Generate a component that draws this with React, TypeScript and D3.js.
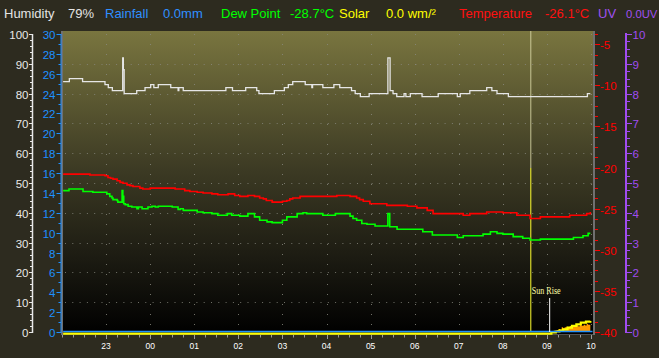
import React from "react";
import * as d3 from "d3";

const W = 659;
const H = 358;

// hour labels, placed every 60 minutes starting at 23:00 (60 minutes after 22:00)
const hourLabels = ["23", "00", "01", "02", "03", "04", "05", "06", "07", "08", "09", "10"];

// [minutes since 22:00, %]
const humidity: [number, number][] = [
  [1.5, 84], [10, 85], [28, 84], [58.5, 83], [63, 82], [68.5, 81], [82.6, 92], [83.5, 88], [84.6, 80],
  [101.7, 81], [113, 82], [120.7, 83], [125, 82], [131, 83], [148, 82], [158, 81], [159, 82], [165, 81],
  [223, 82], [232, 81], [250, 82], [265, 81], [268, 80], [289, 81], [302.6, 82], [308, 83], [314, 84],
  [331, 83], [340, 82], [341, 83], [355, 82], [370, 83], [378, 82], [394, 81], [399, 80], [406, 79],
  [418, 80], [443.5, 92], [446.5, 81], [450.5, 80], [455.6, 79], [465.5, 80], [468, 79], [474, 80],
  [490, 79], [512, 80], [538, 79], [542, 80], [555, 81], [578, 82], [585, 81], [592, 80], [607.5, 79],
  [715, 80], [719, 80],
];

// [minutes, °C]
const temperature: [number, number][] = [
  [1.5, -20.8], [38, -20.9], [58.5, -21.0], [62.6, -21.2], [66, -21.3], [69.4, -21.4], [75, -21.6],
  [79, -21.8], [83, -21.9], [88.5, -22.1], [92.5, -22.2], [96.6, -22.3], [106, -22.5], [110, -22.6],
  [120, -22.5], [154, -22.6], [167, -22.8], [174, -22.9], [184, -23.0], [192, -23.1], [204, -23.2],
  [212, -23.3], [226, -23.2], [235, -23.4], [242, -23.5], [253, -23.4], [262, -23.5], [269, -23.7],
  [274, -23.8], [278, -24.0], [286, -24.2], [300, -24.1], [306, -24.0], [310, -23.8], [314, -23.7],
  [324, -23.5], [374, -23.4], [392, -23.5], [401, -23.7], [405, -23.9], [410, -24.1], [419, -24.4],
  [442, -24.6], [470, -24.7], [483, -24.9], [497, -25.2], [505, -25.6], [546, -25.8], [555, -25.6],
  [578, -25.4], [600, -25.5], [619, -25.8], [637, -26.2], [651, -26.0], [691, -25.8], [714, -25.6],
  [719, -25.4],
];

// [minutes, °C]
const dewPoint: [number, number][] = [
  [1.5, -22.8], [9.5, -22.6], [28.6, -22.9], [42, -23.0], [61, -23.2], [65, -23.5], [68, -23.7],
  [69.4, -23.9], [75, -24.0], [76, -24.2], [81.8, -22.8], [82.8, -23.5], [84, -24.4], [86, -24.5],
  [90, -24.7], [95, -24.8], [102, -25.0], [104, -24.8], [109, -25.0], [117, -24.8], [122.5, -24.7],
  [127, -24.8], [131, -24.7], [150, -24.8], [158, -25.1], [161, -25.0], [165, -25.2], [184, -25.4],
  [192, -25.5], [204, -25.6], [212, -25.8], [225, -25.6], [231, -25.8], [242, -25.9], [253, -25.6],
  [262, -26.0], [269, -26.4], [279, -26.6], [286, -26.7], [300, -26.4], [306, -26.0], [320, -25.6],
  [328, -25.5], [333, -25.6], [355, -25.8], [372, -25.6], [392, -25.9], [396, -26.2], [401, -26.4],
  [408, -26.8], [415, -26.9], [426, -27.1], [443.5, -25.6], [446, -27.2], [456, -27.5], [491, -27.8],
  [504, -28.2], [538, -28.5], [546, -28.3], [573, -28.1], [583, -27.8], [592, -28.0], [600, -28.1],
  [614, -28.4], [627, -28.6], [637, -28.8], [651, -28.7], [696, -28.5], [709, -28.3], [716, -28.0],
  [719, -28.0],
];

// [minutes, W/m²]
const solar: [number, number][] = [
  [663, 0], [666, 2], [669, 4], [671, 3], [673, 7], [676, 10], [678, 8], [680, 16], [682, 12], [684, 16],
  [687, 18], [689, 15], [691, 20], [694, 17], [696, 20], [698, 22], [700, 23], [702, 19], [705, 27],
  [707, 21], [710, 24], [712, 22], [714, 28], [716, 24], [719, 27],
];

// [minutes, W/m²] theoretical maximum
const solarMax: [number, number][] = [
  [1.5, 0], [663, 0], [666, 4], [672, 7], [677, 10], [682, 14], [688, 20], [694, 26], [700, 31],
  [706, 37], [713, 40], [719, 42],
];

const rainfall: [number, number][] = [[1.5, 0], [722, 0]];

const sunRiseTime = 663;
const markerTime = 638;

const legendItems = [
  { label: "Humidity", value: "79%", color: "#e4e4e4", lx: 4, vx: 68 },
  { label: "Rainfall", value: "0.0mm", color: "#2f8fff", lx: 105, vx: 163 },
  { label: "Dew Point", value: "-28.7°C", color: "#00ff00", lx: 221, vx: 290 },
  { label: "Solar", value: "0.0 wm/²", color: "#ffff00", lx: 339, vx: 386 },
  { label: "Temperature", value: "-26.1°C", color: "#ff1010", lx: 459, vx: 545 },
  { label: "UV", value: "0.0UV", color: "#a050f0", lx: 598, vx: 626 },
];

const PL = 62, PR = 594, PT = 31, PB = 334;
const Y0 = 332, Y1 = 34;

export default function App() {
  const x = d3.scaleLinear().domain([0, 724]).range([PL, PR]);
  const yHum = d3.scaleLinear().domain([0, 100]).range([Y0, Y1]);
  const yRain = d3.scaleLinear().domain([0, 30]).range([Y0, Y1]);
  const yTemp = d3.scaleLinear().domain([-40, -3.75]).range([Y0, Y1]);
  const yUV = d3.scaleLinear().domain([0, 10]).range([Y0, Y1]);
  const ySolar = d3.scaleLinear().domain([0, 1000]).range([Y0, Y1]);

  const stepLine = (ys: d3.ScaleLinear<number, number>, dy = 0) =>
    d3.line<[number, number]>().x((d) => x(d[0])).y((d) => ys(d[1]) + dy).curve(d3.curveStepAfter);

  const solarArea = d3
    .area<[number, number]>()
    .x((d) => x(d[0]))
    .y0(ySolar(0))
    .y1((d) => ySolar(d[1]))
    .curve(d3.curveStepAfter);

  const humTicks = d3.range(0, 100.01, 2);
  const rainTicks = d3.range(0, 30.01, 1);
  const tempTicks = d3.range(-40, -3.7, 1.25);
  const uvTicks = d3.range(0, 10.01, 0.25);
  const xMinor = d3.range(0, 724, 15);
  const gridH = d3.range(10, 100, 10);
  const gridV = hourLabels.map((_, i) => 60 * (i + 1));

  const axisFont = "'Liberation Sans', Arial, sans-serif";

  return (
    <svg width={W} height={H} style={{ position: "absolute", left: 0, top: 0, display: "block" }}>
      <defs>
        <linearGradient id="plotBg" x1="0" y1="0" x2="0" y2="1">
          <stop offset="0" stopColor="#79753f" />
          <stop offset="0.45" stopColor="#3d3b24" />
          <stop offset="0.75" stopColor="#1c1b12" />
          <stop offset="1" stopColor="#000000" />
        </linearGradient>
      </defs>
      <rect x={0} y={0} width={W} height={H} fill="#2d2b1f" />

      {/* legend */}
      {legendItems.map((d) => (
        <g key={d.label} fontFamily={axisFont} fontSize={13} fill={d.color}>
          <text x={d.lx} y={17.5}>{d.label}</text>
          <text x={d.vx} y={17.5} fontSize={d.label === "UV" ? 11.3 : 13}>{d.value}</text>
        </g>
      ))}

      {/* plot background */}
      <rect x={PL} y={PT} width={PR - PL} height={PB - PT} fill="url(#plotBg)" />

      {/* grid */}
      {gridH.map((v) => (
        <line key={"gh" + v} x1={PL + 3} x2={PR} y1={Math.round(yHum(v)) + 0.5} y2={Math.round(yHum(v)) + 0.5}
          stroke="#8a8a80" strokeWidth={1} strokeDasharray="1 6.3" opacity={0.8} />
      ))}
      {gridV.map((v) => (
        <line key={"gv" + v} x1={Math.round(x(v)) + 0.5} x2={Math.round(x(v)) + 0.5} y1={PT + 3} y2={PB - 2}
          stroke="#8a8a80" strokeWidth={1} strokeDasharray="1 9" opacity={0.8} />
      ))}

      {/* plot border */}
      <line x1={PL} x2={PR} y1={PB + 0.5} y2={PB + 0.5} stroke="#505050" strokeWidth={1} />
      <line x1={PL} x2={PL} y1={PT} y2={PB + 1} stroke="#707070" strokeWidth={2} />
      <line x1={PR} x2={PR} y1={PT} y2={PB + 1} stroke="#707070" strokeWidth={2} />

      {/* marker line */}
      <line x1={x(markerTime)} x2={x(markerTime)} y1={PT} y2={168} stroke="#dcdaa8" strokeWidth={1} opacity={0.85} />
      <line x1={x(markerTime)} x2={x(markerTime)} y1={168} y2={Y0} stroke="#ffff30" strokeWidth={1} />

      {/* solar */}
      <path d={solarArea(solar) || ""} fill="#ff9a00" />
      <path d={stepLine(ySolar, 1.6)(solarMax) || ""} fill="none" stroke="#ffff00" strokeWidth={2.2} />
      <path d={stepLine(yRain, -0.5)(rainfall) || ""} fill="none" stroke="#1e90ff" strokeWidth={1.5} />

      {/* sun rise */}
      <line x1={x(sunRiseTime) + 0.5} x2={x(sunRiseTime) + 0.5} y1={298} y2={Y0} stroke="#ffffff" strokeWidth={1} />
      <text x={x(sunRiseTime) - 17.5} y={294} fontFamily="'Liberation Serif', serif" fontSize={10}
        fill="#ffffa8" textLength={29} lengthAdjust="spacingAndGlyphs">Sun Rise</text>

      {/* series */}
      <path d={stepLine(yHum)(humidity) || ""} fill="none" stroke="#e6e6e6" strokeWidth={1.3} />
      <path d={stepLine(yTemp)(temperature) || ""} fill="none" stroke="#ff0000" strokeWidth={1.6} />
      <path d={stepLine(yTemp)(dewPoint) || ""} fill="none" stroke="#00ff00" strokeWidth={1.6} />

      {/* humidity axis */}
      <line x1={32.5} x2={32.5} y1={Y1} y2={Y0 + 1} stroke="#e8e8e8" strokeWidth={1.5} />
      {humTicks.map((v) => {
        const major = Math.abs(v % 10) < 1e-6;
        const yy = Math.round(yHum(v)) + 0.5;
        return (
          <g key={"h" + v}>
            <line x1={major ? 29 : 30} x2={32} y1={yy} y2={yy} stroke="#e8e8e8" strokeWidth={1} />
            {major && (
              <text x={28.5} y={yy} dy="0.36em" textAnchor="end" fontFamily={axisFont} fontSize={11.5} fill="#e8e8e8">
                {v}
              </text>
            )}
          </g>
        );
      })}

      {/* rainfall axis */}
      <line x1={61} x2={61} y1={Y1} y2={Y0 + 1} stroke="#1e90ff" strokeWidth={1} />
      {rainTicks.map((v) => {
        const major = v % 2 === 0;
        const yy = Math.round(yRain(v)) + 0.5;
        return (
          <g key={"r" + v}>
            <line x1={major ? 56.5 : 58.5} x2={61} y1={yy} y2={yy} stroke="#1e90ff" strokeWidth={1} />
            {major && (
              <text x={55.5} y={yy} dy="0.36em" textAnchor="end" fontFamily={axisFont} fontSize={11.5} fill="#1e90ff">
                {v}
              </text>
            )}
          </g>
        );
      })}

      {/* temperature axis */}
      {tempTicks.map((v) => {
        const major = Math.abs(v % 5) < 1e-6;
        const yy = Math.round(yTemp(v)) + 0.5;
        return (
          <g key={"t" + v}>
            <line x1={595} x2={major ? 600 : 598} y1={yy} y2={yy} stroke="#ff0000" strokeWidth={1} />
            {major && (
              <text x={600} y={yy} dy="0.36em" fontFamily={axisFont} fontSize={11.5} fill="#ff0000">
                {v}
              </text>
            )}
          </g>
        );
      })}

      {/* UV axis */}
      <line x1={626} x2={626} y1={Y1 - 1} y2={Y0 + 1} stroke="#a04cf0" strokeWidth={2} />
      {uvTicks.map((v) => {
        const major = Math.abs(v % 1) < 1e-6;
        const yy = Math.round(yUV(v)) + 0.5;
        return (
          <g key={"u" + v}>
            <line x1={627} x2={major ? 632 : 630} y1={yy} y2={yy} stroke="#a04cf0" strokeWidth={1} />
            {major && (
              <text x={632.5} y={yy} dy="0.36em" fontFamily={axisFont} fontSize={11.5} fill="#a04cf0">
                {v}
              </text>
            )}
          </g>
        );
      })}

      {/* time axis */}
      {xMinor.map((v) => {
        const major = v % 60 === 0 && v > 0;
        const xx = Math.round(x(v)) + 0.5;
        return (
          <line key={"x" + v} x1={xx} x2={xx} y1={PB + 1} y2={major ? PB + 5 : PB + 3.5} stroke="#9a9a9a" strokeWidth={1} />
        );
      })}
      {hourLabels.map((lab, i) => (
        <text key={lab} x={x(60 * (i + 1))} y={349} textAnchor="middle" fontFamily={axisFont} fontSize={8.5}
          fill="#ffffff">
          {lab}
        </text>
      ))}
    </svg>
  );
}
